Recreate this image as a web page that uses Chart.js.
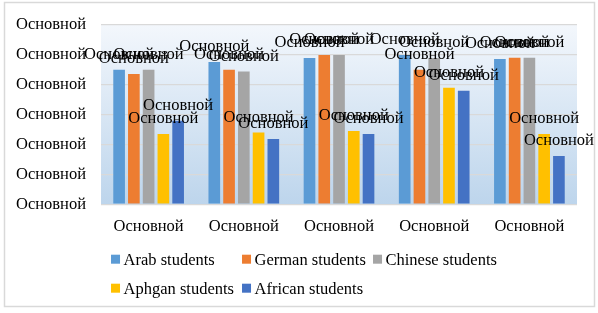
<!DOCTYPE html>
<html>
<head>
<meta charset="utf-8">
<script src="https://cdn.jsdelivr.net/npm/chart.js@4/dist/chart.umd.min.js"></script>
<style>
  html, body { margin: 0; padding: 0; background: #fff; }
  #wrap { width: 598px; height: 313px; }
</style>
</head>
<body>
<div id="wrap"><canvas id="myChart" width="598" height="313"></canvas></div>
<script>
const categories = ['Основной', 'Основной', 'Основной', 'Основной', 'Основной'];
const yTickLabels = ['Основной', 'Основной', 'Основной', 'Основной', 'Основной', 'Основной', 'Основной'];
const pointLabel = 'Основной';

const seriesNames = ['Arab students', 'German students', 'Chinese students', 'Aphgan students', 'African students'];
const arab = [4.50, 4.76, 4.89, 4.99, 4.86];
const german = [4.36, 4.50, 4.99, 4.50, 4.90];
const chinese = [4.50, 4.44, 4.99, 4.89, 4.90];
const aphgan = [2.35, 2.40, 2.45, 3.90, 2.35];
const african = [2.79, 2.18, 2.35, 3.80, 1.61];

const colors = ['#5B9BD5', '#ED7D31', '#A5A5A5', '#FFC000', '#4472C4'];
const font = 'Liberation Serif';
const fontSize = 16.5;

// plot background gradient + outer frame
const backdrop = {
    id: 'backdrop',
    beforeDraw(chart) {
        const c = chart.ctx;
        const a = chart.chartArea;
        c.save();
        c.strokeStyle = '#d9d9d9';
        c.lineWidth = 1.5;
        c.strokeRect(4.5, 2.5, 590, 304);
        const g = c.createLinearGradient(0, a.top, 0, a.bottom);
        g.addColorStop(0, '#f3f7fc');
        g.addColorStop(1, '#bdd5ec');
        c.fillStyle = g;
        c.fillRect(a.left, a.top, a.right - a.left, a.bottom - a.top);
        c.restore();
    }
};

// text label above each bar
const barLabels = {
    id: 'barLabels',
    afterDatasetsDraw(chart) {
        const c = chart.ctx;
        c.save();
        c.font = fontSize + 'px "' + font + '"';
        c.fillStyle = '#000';
        c.textAlign = 'center';
        c.textBaseline = 'middle';
        chart.data.datasets.forEach((ds, i) => {
            chart.getDatasetMeta(i).data.forEach(bar => {
                c.fillText(pointLabel, bar.x, bar.y - 15);
            });
        });
        c.restore();
    }
};

// legend laid out in fixed columns like the original
const gridLegend = {
    id: 'gridLegend',
    afterDraw(chart) {
        const c = chart.ctx;
        const a = chart.chartArea;
        const colW = 131;
        const perRow = 3;
        c.save();
        c.font = fontSize + 'px "' + font + '"';
        c.textBaseline = 'middle';
        c.textAlign = 'left';
        chart.data.datasets.forEach((ds, i) => {
            const x = a.left + 10 + (i % perRow) * colW;
            const y = a.bottom + 55 + Math.floor(i / perRow) * 29;
            c.fillStyle = ds.backgroundColor;
            c.fillRect(x, y - 4.5, 9, 9);
            c.fillStyle = '#000';
            c.fillText(ds.label, x + 12.5, y + 1);
        });
        c.restore();
    }
};

const values = [arab, german, chinese, aphgan, african];

const ctx = document.getElementById('myChart').getContext('2d');

const myChart = new Chart(ctx, {
    type: 'bar',
    data: {
        labels: categories,
        datasets: seriesNames.map((name, i) => ({
            label: name,
            data: values[i],
            backgroundColor: colors[i],
            borderWidth: 0,
            categoryPercentage: 0.775,
            barPercentage: 0.79
        }))
    },
    options: {
        responsive: false,
        maintainAspectRatio: false,
        animation: false,
        layout: {
            padding: {left: 1, top: 20, right: 21, bottom: 71}
        },
        scales: {
            x: {
                grid: {display: false},
                border: {display: false},
                ticks: {
                    color: '#000',
                    padding: 5,
                    font: {family: font, size: fontSize}
                }
            },
            y: {
                min: 0,
                max: 6,
                grid: {color: '#d9d9d9', lineWidth: 1.2, drawTicks: false},
                border: {display: false},
                ticks: {
                    stepSize: 1,
                    color: '#000',
                    padding: 15,
                    font: {family: font, size: fontSize},
                    callback: (v, i) => yTickLabels[i]
                }
            }
        },
        plugins: {
            legend: {display: false},
            tooltip: {enabled: false}
        }
    },
    plugins: [backdrop, barLabels, gridLegend]
});
</script>
</body>
</html>
